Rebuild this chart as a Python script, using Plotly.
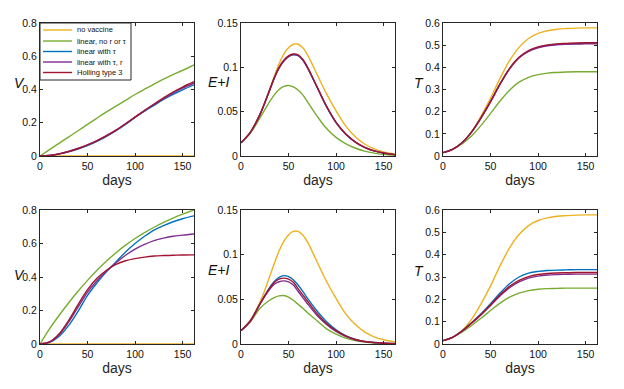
import plotly.graph_objects as go

# ---------------- data ----------------
days = [0, 10, 20, 30, 40, 50, 60, 70, 80, 90, 100, 110, 120, 130, 140, 150, 162]
days_fine = [0, 10, 20, 30, 35, 40, 45, 50, 55, 60, 65, 70, 80, 90, 100, 110, 120, 130, 140, 150, 162]

series_names = ["no vaccine", "linear, no r or τ", "linear with τ", "linear with τ, r", "Holling type 3"]
series_colors = ["#EDB120", "#77AC30", "#0072BD", "#7E2F8E", "#A2142F"]

# top row: V  (on days)
top_V_none = [0]*17
top_V_lin = [0, 0.038, 0.076, 0.114, 0.152, 0.19, 0.228, 0.265, 0.30, 0.335, 0.37, 0.402, 0.433, 0.462, 0.49, 0.515, 0.548]
top_V_tau = [0, 0.003, 0.012, 0.025, 0.042, 0.063, 0.088, 0.118, 0.152, 0.19, 0.232, 0.27, 0.305, 0.34, 0.37, 0.398, 0.428]
top_V_taur = [0, 0.003, 0.013, 0.027, 0.045, 0.067, 0.092, 0.122, 0.156, 0.194, 0.234, 0.273, 0.31, 0.345, 0.378, 0.408, 0.438]
top_V_hol = [0, 0.003, 0.013, 0.027, 0.045, 0.067, 0.092, 0.122, 0.156, 0.194, 0.234, 0.274, 0.313, 0.35, 0.385, 0.415, 0.447]

# top row: E+I  (on days_fine)
top_EI_none = [0.015, 0.027, 0.047, 0.075, 0.09, 0.104, 0.115, 0.122, 0.126, 0.126, 0.122, 0.114, 0.092, 0.07, 0.051, 0.034, 0.022, 0.0135, 0.008, 0.0047, 0.0022]
top_EI_lin = [0.015, 0.026, 0.043, 0.061, 0.069, 0.075, 0.0785, 0.0795, 0.078, 0.0745, 0.069, 0.061, 0.045, 0.031, 0.021, 0.014, 0.009, 0.0055, 0.0032, 0.0018, 0.0009]
top_EI_tau = [0.015, 0.027, 0.047, 0.074, 0.088, 0.099, 0.107, 0.112, 0.114, 0.1133, 0.1083, 0.0993, 0.0776, 0.0556, 0.0377, 0.0248, 0.0158, 0.0096, 0.0057, 0.0033, 0.0016]
top_EI_taur = [0.015, 0.027, 0.047, 0.074, 0.088, 0.099, 0.107, 0.112, 0.1143, 0.1135, 0.1085, 0.0995, 0.0778, 0.0558, 0.0378, 0.0249, 0.0159, 0.0097, 0.0057, 0.0033, 0.0016]
top_EI_hol = [0.015, 0.027, 0.047, 0.074, 0.088, 0.1, 0.108, 0.113, 0.115, 0.114, 0.109, 0.1, 0.078, 0.056, 0.038, 0.025, 0.016, 0.0098, 0.0058, 0.0034, 0.0016]

# top row: T  (on days)
top_T_none = [0.015, 0.03, 0.06, 0.11, 0.18, 0.26, 0.35, 0.43, 0.49, 0.53, 0.553, 0.565, 0.572, 0.575, 0.577, 0.578, 0.578]
top_T_lin = [0.015, 0.03, 0.055, 0.09, 0.138, 0.192, 0.248, 0.297, 0.333, 0.355, 0.367, 0.374, 0.377, 0.379, 0.38, 0.38, 0.38]
top_T_tau = [0.015, 0.03, 0.06, 0.108, 0.172, 0.245, 0.324, 0.393, 0.443, 0.473, 0.49, 0.499, 0.504, 0.506, 0.507, 0.508, 0.508]
top_T_taur = [0.015, 0.03, 0.06, 0.108, 0.172, 0.245, 0.324, 0.393, 0.443, 0.472, 0.488, 0.497, 0.502, 0.504, 0.505, 0.506, 0.506]
top_T_hol = [0.015, 0.03, 0.06, 0.108, 0.172, 0.245, 0.325, 0.395, 0.445, 0.475, 0.492, 0.501, 0.506, 0.508, 0.51, 0.511, 0.511]

# bottom row: V  (on days)
bot_V_none = [0]*17
bot_V_lin = [0, 0.09, 0.17, 0.245, 0.315, 0.38, 0.44, 0.495, 0.545, 0.59, 0.63, 0.665, 0.697, 0.726, 0.752, 0.775, 0.80]
bot_V_tau = [0, 0.01, 0.045, 0.11, 0.195, 0.29, 0.365, 0.432, 0.49, 0.55, 0.60, 0.643, 0.68, 0.707, 0.73, 0.748, 0.765]
bot_V_taur = [0, 0.012, 0.055, 0.13, 0.22, 0.31, 0.378, 0.436, 0.485, 0.53, 0.567, 0.595, 0.617, 0.632, 0.643, 0.65, 0.657]
bot_V_hol = [0, 0.012, 0.06, 0.14, 0.235, 0.325, 0.392, 0.44, 0.475, 0.497, 0.51, 0.519, 0.525, 0.528, 0.53, 0.531, 0.532]

# bottom row: E+I  (on days_fine)
bot_EI_none = top_EI_none
bot_EI_lin = [0.015, 0.025, 0.04, 0.049, 0.052, 0.0538, 0.0543, 0.0525, 0.049, 0.0445, 0.04, 0.035, 0.026, 0.017, 0.011, 0.0065, 0.0038, 0.0022, 0.0012, 0.0007, 0.0003]
bot_EI_tau = [0.015, 0.026, 0.045, 0.063, 0.07, 0.0745, 0.0765, 0.0755, 0.072, 0.066, 0.059, 0.051, 0.037, 0.025, 0.016, 0.0095, 0.0055, 0.003, 0.0017, 0.001, 0.0005]
bot_EI_taur = [0.015, 0.026, 0.045, 0.061, 0.067, 0.0697, 0.0707, 0.0695, 0.066, 0.059, 0.052, 0.045, 0.032, 0.022, 0.014, 0.0085, 0.0048, 0.0027, 0.0015, 0.0008, 0.0004]
bot_EI_hol = [0.015, 0.026, 0.045, 0.062, 0.069, 0.0725, 0.0737, 0.0725, 0.069, 0.062, 0.055, 0.048, 0.034, 0.023, 0.015, 0.009, 0.005, 0.0028, 0.0016, 0.0009, 0.0004]

# bottom row: T  (on days)
bot_T_none = top_T_none
bot_T_lin = [0.015, 0.03, 0.053, 0.083, 0.115, 0.15, 0.183, 0.21, 0.228, 0.239, 0.245, 0.248, 0.249, 0.25, 0.25, 0.25, 0.25]
bot_T_tau = [0.015, 0.03, 0.058, 0.095, 0.135, 0.18, 0.228, 0.27, 0.3, 0.317, 0.325, 0.329, 0.331, 0.332, 0.333, 0.333, 0.333]
bot_T_taur = [0.015, 0.03, 0.058, 0.093, 0.13, 0.172, 0.215, 0.252, 0.278, 0.295, 0.304, 0.309, 0.311, 0.312, 0.313, 0.313, 0.313]
bot_T_hol = [0.015, 0.03, 0.058, 0.094, 0.132, 0.175, 0.22, 0.258, 0.285, 0.302, 0.311, 0.316, 0.318, 0.319, 0.32, 0.32, 0.32]

y_labels = ["V", "E+I", "T"]
y_ranges = [[0, 0.8], [0, 0.15], [0, 0.6]]
y_dticks = [0.2, 0.05, 0.1]
x_ticks = [0, 50, 100, 150]
x_range = [0, 162]

panels = [
    (days, [top_V_none, top_V_lin, top_V_tau, top_V_taur, top_V_hol]),
    (days_fine, [top_EI_none, top_EI_lin, top_EI_tau, top_EI_taur, top_EI_hol]),
    (days, [top_T_none, top_T_lin, top_T_tau, top_T_taur, top_T_hol]),
    (days, [bot_V_none, bot_V_lin, bot_V_tau, bot_V_taur, bot_V_hol]),
    (days_fine, [bot_EI_none, bot_EI_lin, bot_EI_tau, bot_EI_taur, bot_EI_hol]),
    (days, [bot_T_none, bot_T_lin, bot_T_tau, bot_T_taur, bot_T_hol]),
]

# ---------------- layout geometry ----------------
W, H = 624, 389
col_px = [(40, 194), (241, 395), (443, 597)]
row_px = [(23, 156), (210, 344)]

FONT = "Liberation Sans, Arial, Helvetica, sans-serif"

fig = go.Figure()
layout = dict(
    width=W, height=H,
    margin=dict(l=0, r=0, t=0, b=0),
    paper_bgcolor="white", plot_bgcolor="white",
    showlegend=False,
    font=dict(family=FONT, color="#262626"),
)

annotations = []
shapes = []

for k, (xs, data) in enumerate(panels):
    r, c = divmod(k, 3)
    idx = "" if k == 0 else str(k + 1)
    for name, col, ys in zip(series_names, series_colors, data):
        fig.add_trace(go.Scatter(
            x=xs, y=ys, mode="lines", name=name,
            line=dict(color=col, width=1.4, shape="spline", smoothing=1.0),
            xaxis="x" + idx, yaxis="y" + idx, showlegend=False, hoverinfo="skip",
        ))
    x0, x1 = col_px[c]
    y0, y1 = row_px[r]
    common = dict(
        showline=True, linecolor="#262626", linewidth=1, mirror="ticks",
        ticks="inside", ticklen=3, tickcolor="#262626", showgrid=False, zeroline=False,
        tickfont=dict(family=FONT, size=10.5, color="#111111"),
        automargin=False,
    )
    layout["xaxis" + idx] = dict(
        common, domain=[x0 / W, x1 / W], range=x_range, tickvals=x_ticks,
        anchor="y" + idx,
        title=dict(text="days", font=dict(family=FONT, size=14, color="#262626"), standoff=4),
    )
    layout["yaxis" + idx] = dict(
        common, domain=[1 - y1 / H, 1 - y0 / H], range=y_ranges[c], dtick=y_dticks[c],
        anchor="x" + idx,
    )

# y labels (horizontal, italic)
ylab_px = [[(19, 83), (219, 82), (419, 83)], [(19, 275), (219, 270), (419, 271)]]
for r in range(2):
    for c in range(3):
        px, py = ylab_px[r][c]
        annotations.append(dict(
            text="<i>%s</i>" % y_labels[c], xref="paper", yref="paper",
            x=px / W, y=1 - py / H, xanchor="center", yanchor="middle",
            showarrow=False, font=dict(family=FONT, size=14, color="#111111"),
        ))

# legend box (top-left panel)
lx0, lx1, ly0, ly1 = 40, 131, 23, 80
shapes.append(dict(type="rect", xref="paper", yref="paper",
                   x0=lx0 / W, x1=lx1 / W, y0=1 - ly1 / H, y1=1 - ly0 / H,
                   line=dict(color="#262626", width=1), fillcolor="white", layer="above"))
row_y = [30, 41, 51.5, 62, 72.5]
for name, col, yy in zip(series_names, series_colors, row_y):
    shapes.append(dict(type="line", xref="paper", yref="paper",
                       x0=43 / W, x1=72 / W, y0=1 - yy / H, y1=1 - yy / H,
                       line=dict(color=col, width=1.4), layer="above"))
    annotations.append(dict(text=name, xref="paper", yref="paper",
                            x=75 / W, y=1 - yy / H, xanchor="left", yanchor="middle",
                            showarrow=False, font=dict(family=FONT, size=7.5, color="#111111")))

layout["annotations"] = annotations
layout["shapes"] = shapes
fig.update_layout(**layout)
fig.write_html("out.html", config={"displayModeBar": False},
               post_script="document.body.style.margin='0px';document.body.style.overflow='hidden';")
